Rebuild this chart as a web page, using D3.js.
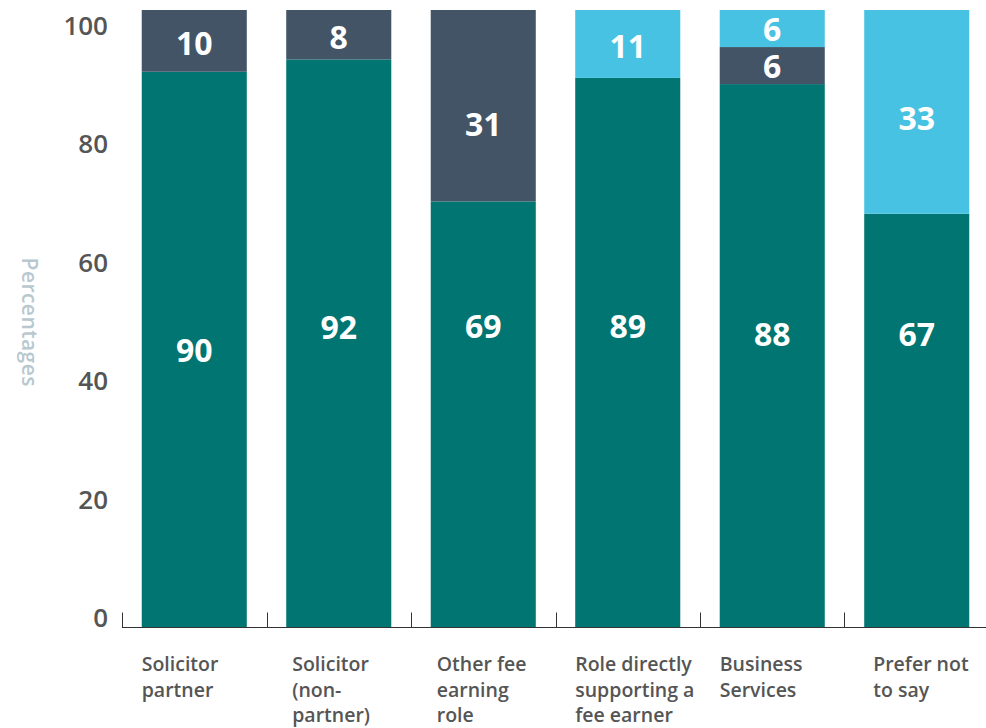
<!DOCTYPE html>
<html>
<head>
<meta charset="utf-8">
<script src="https://cdn.jsdelivr.net/npm/d3@7"></script>
<style>
  body { margin: 0; background: #fff; }
  svg { display: block; font-family: "Open Sans", sans-serif; }
</style>
</head>
<body>
<svg id="chart" width="986" height="728"></svg>
<script>
// categories, each split into lines as printed under the bars
let categories = ['Solicitor partner', 'Solicitor (non-partner)', 'Other fee earning role',
                  'Role directly supporting a fee earner', 'Business Services', 'Prefer not to say'];
let categoryLines = [['Solicitor', 'partner'], ['Solicitor', '(non-', 'partner)'], ['Other fee', 'earning', 'role'],
                     ['Role directly', 'supporting a', 'fee earner'], ['Business', 'Services'], ['Prefer not', 'to say']];

// stacked series values (percent)
let seriesKeys = ['s1', 's2', 's3'];
let s1Values = [90, 92, 69, 89, 88, 67];
let s2Values = [10, 8, 31, 0, 6, 0];
let s3Values = [0, 0, 0, 11, 6, 33];

let yTicks = [0, 20, 40, 60, 80, 100];

// where the value labels sit, in percent units (they are not centred in the original)
let labelAt = {
  s1: [44.9, 48.6, 48.7, 48.7, 47.5, 47.5],
  s2: [94.5, 95.6, 81.4, null, 90.9, null],
  s3: [null, null, null, 94.1, 96.8, 82.5]
};
let labelInset = [0, 6, 6, 0, 0, 9];

let colors = { s1: '#007571', s2: '#435466', s3: '#48c2e2' };

let svg = d3.select('#chart');

// build rows for d3.stack
let rows = categories.map((c, i) => ({ cat: c, s1: s1Values[i], s2: s2Values[i], s3: s3Values[i] }));
let stacked = d3.stack().keys(seriesKeys)(rows);

let x = d3.scaleBand()
  .domain(categories)
  .range([122, 989])
  .paddingInner(0.273)
  .paddingOuter(0.1366);

let y = d3.scaleLinear().domain([0, 100]).range([627.5, 10]);
// the printed tick labels use their own spacing
let yLabel = d3.scaleLinear().domain([0, 100]).range([627, 35]);

// bars
let layers = svg.append('g').selectAll('g')
  .data(stacked)
  .join('g')
  .attr('fill', d => colors[d.key]);

layers.selectAll('rect')
  .data(d => d.filter(s => s[1] - s[0] > 0))
  .join('rect')
  .attr('x', d => x(d.data.cat))
  .attr('width', x.bandwidth())
  .attr('y', d => y(d[1]))
  .attr('height', d => y(d[0]) - y(d[1]));

// value labels
stacked.forEach(layer => {
  svg.append('g').selectAll('text')
    .data(layer.map((s, i) => ({ cat: s.data.cat, v: s[1] - s[0], at: labelAt[layer.key][i] }))
                .filter(d => d.v > 0))
    .join('text')
    .attr('x', d => x(d.cat) + x.bandwidth() / 2)
    .attr('y', d => y(d.at))
    .attr('dy', '0.36em')
    .attr('text-anchor', 'middle')
    .attr('fill', '#fff')
    .style('font-size', '32px')
    .style('font-weight', 700)
    .text(d => d.v);
});

// bottom axis line and ticks between bars
let gap = x.step() * x.paddingInner() / 2;
svg.append('line')
  .attr('x1', 122).attr('x2', 986)
  .attr('y1', y(0)).attr('y2', y(0))
  .attr('stroke', '#333').attr('stroke-width', 1);

svg.append('g').selectAll('line')
  .data(categories)
  .join('line')
  .attr('x1', d => Math.round(x(d) - gap) + 0.5)
  .attr('x2', d => Math.round(x(d) - gap) + 0.5)
  .attr('y1', y(0))
  .attr('y2', y(0) - 15)
  .attr('stroke', '#333').attr('stroke-width', 1);

// category labels
let catG = svg.append('g').selectAll('text')
  .data(categories)
  .join('text')
  .attr('x', (d, i) => x(d) + labelInset[i])
  .attr('y', 671)
  .attr('fill', '#555')
  .style('font-size', '19.5px')
  .style('font-weight', 600);

catG.selectAll('tspan')
  .data((d, i) => categoryLines[i])
  .join('tspan')
  .attr('x', function() { return d3.select(this.parentNode).attr('x'); })
  .attr('dy', (d, i) => i === 0 ? 0 : 25.5)
  .text(d => d);

// y tick labels
svg.append('g').selectAll('text')
  .data(yTicks)
  .join('text')
  .attr('x', 108)
  .attr('y', d => yLabel(d))
  .attr('text-anchor', 'end')
  .attr('fill', '#555')
  .style('font-size', '26px')
  .style('font-weight', 600)
  .text(d => d);

// y title
svg.append('text')
  .attr('transform', 'translate(22,322) rotate(90)')
  .attr('text-anchor', 'middle')
  .attr('fill', '#b8c8cf')
  .style('font-size', '21px')
  .style('font-weight', 600)
  .attr('textLength', 129)
  .text('Percentages');
</script>
</body>
</html>
